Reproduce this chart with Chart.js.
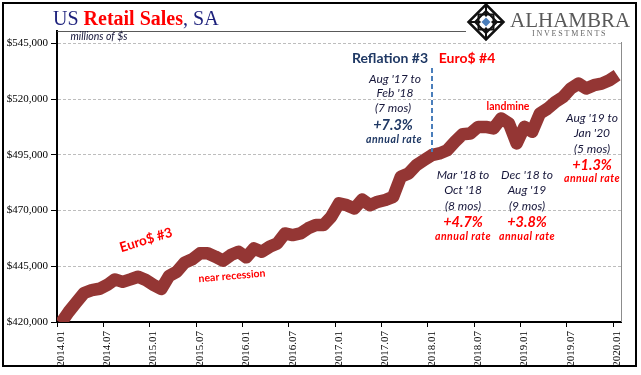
<!DOCTYPE html>
<html>
<head>
<meta charset="utf-8">
<script src="https://cdn.jsdelivr.net/npm/chart.js@4.4.1/dist/chart.umd.min.js"></script>
<style>
  html, body { margin: 0; padding: 0; background: #fff; }
  #wrap { position: relative; width: 641px; height: 375px; }
  #wrap canvas { position: absolute; left: 0; top: 0; }
  .txt { position: absolute; white-space: nowrap; line-height: 1; font-family: 'Liberation Serif', 'Times New Roman', serif; }
  #title { left: 53px; top: 8px; font-size: 20px; color: #1b1f7b; }
  #title b { color: #ff0000; }
  #brand { left: 510px; top: 10px; font-size: 21px; color: #595959; }
  #brandSub { left: 532px; top: 30px; font-size: 8px; letter-spacing: 1.8px; color: #666; }
</style>
</head>
<body>
<div id="wrap">
  <canvas id="salesChart" width="641" height="375"></canvas>
  <div class="txt" id="title">US <b>Retail Sales</b>, SA</div>
  <div class="txt" id="brand">ALHAMBRA</div>
  <div class="txt" id="brandSub">INVESTMENTS</div>
</div>
<script>
// monthly categories, Jan 2014 .. Jan 2020
const monthLabels = [
  '2014.01','2014.02','2014.03','2014.04','2014.05','2014.06','2014.07','2014.08','2014.09','2014.10','2014.11','2014.12',
  '2015.01','2015.02','2015.03','2015.04','2015.05','2015.06','2015.07','2015.08','2015.09','2015.10','2015.11','2015.12',
  '2016.01','2016.02','2016.03','2016.04','2016.05','2016.06','2016.07','2016.08','2016.09','2016.10','2016.11','2016.12',
  '2017.01','2017.02','2017.03','2017.04','2017.05','2017.06','2017.07','2017.08','2017.09','2017.10','2017.11','2017.12',
  '2018.01','2018.02','2018.03','2018.04','2018.05','2018.06','2018.07','2018.08','2018.09','2018.10','2018.11','2018.12',
  '2019.01','2019.02','2019.03','2019.04','2019.05','2019.06','2019.07','2019.08','2019.09','2019.10','2019.11','2019.12',
  '2020.01'
];

// US retail sales, SA, millions of $
const retailSales = [
  419500, 424500, 428800, 433000, 434300, 434900, 436600, 439100, 438000, 439100, 440300, 438800,
  436600, 434800, 440600, 442500, 446600, 448100, 450800, 450800, 449300, 447500, 450000, 451500,
  449000, 453000, 451500, 453700, 455200, 459700, 459000, 459700, 462000, 463500, 463500, 467200,
  473200, 472400, 470900, 474900, 472400, 473900, 474700, 476100, 485100, 486600, 490300, 492600,
  494800, 495600, 497000, 500800, 504200, 504500, 507500, 507500, 506800, 511300, 509000, 500100,
  507500, 505300, 513500, 515700, 518700, 520900, 524700, 526900, 524700, 526200, 526900, 528400,
  530700
];

const yTicks = [420000, 445000, 470000, 495000, 520000, 545000];

const NAVY = '#1f3864';
const DARK = '#16163a';
const RED = '#ff0000';

// annotation texts (pixel placement)
const notes = [
  { t: 'Reflation #3', x: 390, y: 58, f: 'bold 14px Lato', c: NAVY },
  { t: 'Euro$ #4', x: 467, y: 58, f: 'bold 14px Lato', c: RED },
  { t: "Aug '17 to", x: 395, y: 79, f: 'italic 12px Lato', c: DARK },
  { t: "Feb '18", x: 395, y: 93, f: 'italic 12px Lato', c: DARK },
  { t: '(7 mos)', x: 393, y: 108, f: 'italic 12px Lato', c: DARK },
  { t: '+7.3%', x: 393, y: 125, f: 'bold italic 14.5px Lato', c: NAVY },
  { t: 'annual rate', x: 394, y: 140, f: 'bold italic 10.5px Lato', c: NAVY, s: 0.5 },
  { t: 'landmine', x: 508, y: 107, f: 'bold 10.5px Lato', c: RED },
  { t: "Aug '19 to", x: 592, y: 118, f: 'italic 12px Lato', c: DARK },
  { t: "Jan '20", x: 592, y: 133, f: 'italic 12px Lato', c: DARK },
  { t: '(5 mos)', x: 592, y: 149, f: 'italic 12px Lato', c: DARK },
  { t: '+1.3%', x: 592, y: 165, f: 'bold italic 14.5px Lato', c: RED },
  { t: 'annual rate', x: 592, y: 179, f: 'bold italic 10.5px Lato', c: RED, s: 0.5 },
  { t: "Mar '18 to", x: 463, y: 175, f: 'italic 12px Lato', c: DARK },
  { t: "Oct '18", x: 463, y: 190, f: 'italic 12px Lato', c: DARK },
  { t: '(8 mos)', x: 463, y: 206, f: 'italic 12px Lato', c: DARK },
  { t: '+4.7%', x: 463, y: 222, f: 'bold italic 14.5px Lato', c: RED },
  { t: 'annual rate', x: 463, y: 237, f: 'bold italic 10.5px Lato', c: RED, s: 0.5 },
  { t: "Dec '18 to", x: 527, y: 175, f: 'italic 12px Lato', c: DARK },
  { t: "Aug '19", x: 527, y: 190, f: 'italic 12px Lato', c: DARK },
  { t: '(9 mos)', x: 527, y: 206, f: 'italic 12px Lato', c: DARK },
  { t: '+3.8%', x: 527, y: 222, f: 'bold italic 14.5px Lato', c: RED },
  { t: 'annual rate', x: 527, y: 237, f: 'bold italic 10.5px Lato', c: RED, s: 0.5 },
  { t: 'Euro$ #3', x: 146, y: 240, f: 'bold 13.5px Lato', c: RED, r: -17 },
  { t: 'near recession', x: 232, y: 276, f: 'bold 10.5px Lato', c: RED, r: -5 },
  { t: 'millions of $s', x: 99, y: 37, f: 'italic 10.5px Lato', c: DARK }
];

const decor = {
  id: 'decor',
  beforeDatasetsDraw(chart) {
    const { ctx, chartArea: a } = chart;
    ctx.save();
    // frame top (cut by the logo) and right side
    ctx.strokeStyle = '#595959';
    ctx.lineWidth = 1;
    ctx.beginPath();
    ctx.moveTo(a.left, a.top + 0.5);
    ctx.lineTo(466, a.top + 0.5);
    ctx.stroke();
    ctx.strokeStyle = '#8c8c8c';
    ctx.beginPath();
    ctx.moveTo(a.right + 0.5, 42);
    ctx.lineTo(a.right + 0.5, a.bottom);
    ctx.stroke();
    ctx.restore();
  },
  afterDraw(chart) {
    const { ctx } = chart;
    ctx.save();
    // Reflation / Euro$ divider
    ctx.strokeStyle = '#4a7ebb';
    ctx.lineWidth = 2;
    ctx.setLineDash([5, 3]);
    ctx.beginPath();
    ctx.moveTo(432, 68);
    ctx.lineTo(432, 152);
    ctx.stroke();
    ctx.setLineDash([]);

    ctx.textAlign = 'center';
    ctx.textBaseline = 'middle';
    notes.forEach(n => {
      ctx.save();
      ctx.font = n.f;
      ctx.fillStyle = n.c;
      ctx.letterSpacing = (n.s || 0) + 'px';
      ctx.translate(n.x, n.y);
      if (n.r) ctx.rotate(n.r * Math.PI / 180);
      ctx.fillText(n.t, 0, 0);
      ctx.restore();
    });

    // logo mark
    const cx = 486, cy = 22;
    ctx.strokeStyle = '#111';
    ctx.lineWidth = 2.5;
    const diamond = (r) => {
      ctx.beginPath();
      ctx.moveTo(cx, cy - r); ctx.lineTo(cx + r, cy); ctx.lineTo(cx, cy + r); ctx.lineTo(cx - r, cy);
      ctx.closePath();
    };
    diamond(17.5); ctx.stroke();
    ctx.lineWidth = 2;
    diamond(11); ctx.stroke();
    ctx.strokeRect(cx - 7.5, cy - 7.5, 15, 15);
    ctx.beginPath();
    ctx.moveTo(cx - 17, cy); ctx.lineTo(cx + 17, cy);
    ctx.moveTo(cx, cy - 17); ctx.lineTo(cx, cy + 17);
    ctx.stroke();
    ctx.fillStyle = '#fff';
    diamond(6); ctx.fill();
    ctx.fillStyle = '#4a7ebb';
    diamond(4.5); ctx.fill();

    // outer border
    ctx.strokeStyle = '#000';
    ctx.lineWidth = 2;
    ctx.strokeRect(3, 3, 633, 363);
    ctx.restore();
  }
};

const serif = { family: "'Liberation Serif', 'Times New Roman', serif" };

new Chart(document.getElementById('salesChart').getContext('2d'), {
  type: 'line',
  data: {
    labels: monthLabels,
    datasets: [{
      data: retailSales,
      borderColor: '#943634',
      borderWidth: 12.5,
      borderJoinStyle: 'round',
      pointRadius: 0,
      tension: 0,
      clip: 0
    }]
  },
  options: {
    responsive: false,
    animation: false,
    layout: { padding: { top: 31, right: 20, left: 0, bottom: 0 } },
    plugins: { legend: { display: false }, tooltip: { enabled: false } },
    scales: {
      x: {
        offset: true,
        grid: {
          offset: true,
          drawOnChartArea: false,
          tickLength: 5,
          color: (c) => (c.index % 6 === 0 ? '#000' : 'rgba(0,0,0,0)')
        },
        border: { color: '#000', width: 2 },
        ticks: {
          autoSkip: false,
          minRotation: 90,
          maxRotation: 90,
          padding: 4,
          color: '#000',
          font: { ...serif, size: 11 },
          callback: (v, i) => (i % 6 === 0 ? monthLabels[i] : '')
        },
        afterFit: (s) => { s.height = 53; }
      },
      y: {
        min: 420000,
        max: 550500,
        afterBuildTicks: (axis) => { axis.ticks = yTicks.map(v => ({ value: v })); },
        grid: { color: '#bdbdbd', tickColor: '#000', tickLength: 6, tickBorderDash: [] },
        border: { color: '#000', width: 2, dash: [3, 2] },
        ticks: {
          padding: 3,
          color: '#000',
          font: { ...serif, size: 11 },
          callback: (v) => '$' + v.toLocaleString('en-US')
        },
        afterFit: (s) => { s.width = 57; }
      }
    }
  },
  plugins: [decor]
});
</script>
</body>
</html>
